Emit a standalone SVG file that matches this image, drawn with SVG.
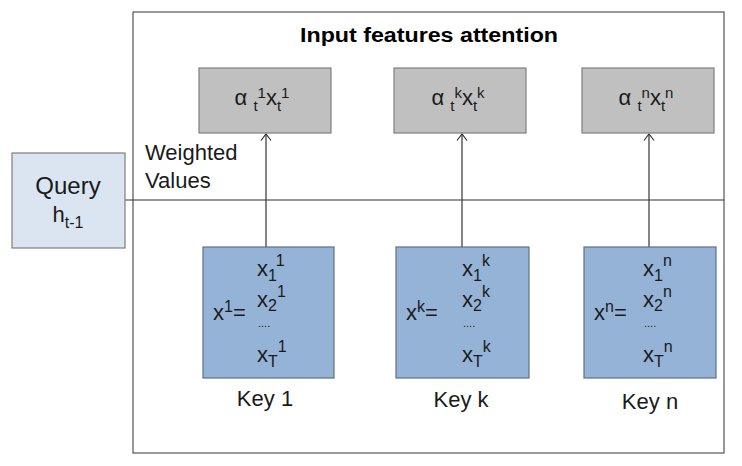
<svg xmlns="http://www.w3.org/2000/svg" width="742" height="466" viewBox="0 0 742 466">
<defs>
<style>
text{font-family:"Liberation Sans",Arial,sans-serif;fill:#1a1a1a}
.title{font-size:20px;font-weight:bold;fill:#000}
.lbl{font-size:22px}
.gray{fill:#c0c0c0;stroke:#7f7f7f;stroke-width:1.2}
.blue{fill:#95b3d7;stroke:#5f6f84;stroke-width:1.2}
.query{fill:#dbe5f1;stroke:#7f7f7f;stroke-width:1.2}
.conn{stroke:#333;stroke-width:1.2;fill:none}
.frame{fill:#fff;stroke:#555;stroke-width:1.2}
.m{font-size:22px}
.s{font-size:16px}
.g{font-size:15px}
.dots{font-size:11px}
</style>
<marker id="arr" viewBox="0 0 12 12" refX="10.5" refY="6" markerWidth="12" markerHeight="12" markerUnits="userSpaceOnUse" orient="auto">
<path d="M4,1 L10.5,6 L4,11" fill="none" stroke="#333" stroke-width="1.2"/>
</marker>
</defs>
<rect width="742" height="466" fill="#fff"/>
<g id="frame">
<rect class="frame" x="133" y="12" width="591" height="441"/>
<text class="title" x="429" y="42" text-anchor="middle" textLength="258" lengthAdjust="spacingAndGlyphs">Input features attention</text>
</g>
<g id="connectors">
<line class="conn" x1="125" y1="200" x2="724" y2="200"/>
<line class="conn" x1="266" y1="247" x2="266" y2="134" marker-end="url(#arr)"/>
<line class="conn" x1="462" y1="247" x2="462" y2="134" marker-end="url(#arr)"/>
<line class="conn" x1="649" y1="247" x2="649" y2="134" marker-end="url(#arr)"/>
</g>
<g id="weighted-label">
<text class="lbl" x="145" y="160">Weighted</text>
<text class="lbl" x="145" y="188">Values</text>
</g>
<g id="query">
<rect class="query" x="12" y="153" width="113" height="95"/>
<text x="68" y="194" text-anchor="middle" font-size="24">Query</text>
<text x="68" y="222" text-anchor="middle"><tspan class="m">h</tspan><tspan class="s" dy="6">t-1</tspan></text>
</g>
<g id="value1">
<rect class="gray" x="199" y="68" width="132" height="65"/>
<text x="262" y="105" text-anchor="middle"><tspan class="m">α </tspan><tspan class="g" dy="6">t</tspan><tspan class="g" dy="-13">1</tspan><tspan class="m" dy="7">x</tspan><tspan class="g" dy="6">t</tspan><tspan class="g" dy="-13">1</tspan></text>
</g>
<g id="valuek">
<rect class="gray" x="394" y="68" width="132" height="65"/>
<text x="458" y="105" text-anchor="middle"><tspan class="m">α </tspan><tspan class="g" dy="6">t</tspan><tspan class="g" dy="-13">k</tspan><tspan class="m" dy="7">x</tspan><tspan class="g" dy="6">t</tspan><tspan class="g" dy="-13">k</tspan></text>
</g>
<g id="valuen">
<rect class="gray" x="582" y="68" width="132" height="65"/>
<text x="646" y="105" text-anchor="middle"><tspan class="m">α </tspan><tspan class="g" dy="6">t</tspan><tspan class="g" dy="-13">n</tspan><tspan class="m" dy="7">x</tspan><tspan class="g" dy="6">t</tspan><tspan class="g" dy="-13">n</tspan></text>
</g>
<g id="key1">
<rect class="blue" x="203" y="247" width="131" height="131"/>
<text x="257" y="276"><tspan class="m">x</tspan><tspan class="s" dy="5">1</tspan><tspan class="s" dy="-15">1</tspan></text>
<text x="257" y="307"><tspan class="m">x</tspan><tspan class="s" dy="4">2</tspan><tspan class="s" dy="-14">1</tspan></text>
<text x="258" y="327" class="dots">....</text>
<text x="257" y="362"><tspan class="m">x</tspan><tspan class="s" dy="5">T</tspan><tspan class="s" dy="-15">1</tspan></text>
<text x="213" y="320"><tspan class="m">x</tspan><tspan class="s" dy="-8">1</tspan><tspan class="m" dy="8">=</tspan></text>
<text class="lbl" x="265" y="406" text-anchor="middle">Key 1</text>
</g>
<g id="keyk">
<rect class="blue" x="396" y="247" width="133" height="131"/>
<text x="462" y="276"><tspan class="m">x</tspan><tspan class="s" dy="5">1</tspan><tspan class="s" dy="-15">k</tspan></text>
<text x="462" y="307"><tspan class="m">x</tspan><tspan class="s" dy="4">2</tspan><tspan class="s" dy="-14">k</tspan></text>
<text x="463" y="327" class="dots">....</text>
<text x="462" y="362"><tspan class="m">x</tspan><tspan class="s" dy="5">T</tspan><tspan class="s" dy="-15">k</tspan></text>
<text x="406" y="320"><tspan class="m">x</tspan><tspan class="s" dy="-8">k</tspan><tspan class="m" dy="8">=</tspan></text>
<text class="lbl" x="461" y="407" text-anchor="middle">Key k</text>
</g>
<g id="keyn">
<rect class="blue" x="584" y="247" width="132" height="131"/>
<text x="643" y="276"><tspan class="m">x</tspan><tspan class="s" dy="5">1</tspan><tspan class="s" dy="-15">n</tspan></text>
<text x="643" y="307"><tspan class="m">x</tspan><tspan class="s" dy="4">2</tspan><tspan class="s" dy="-14">n</tspan></text>
<text x="644" y="327" class="dots">....</text>
<text x="643" y="362"><tspan class="m">x</tspan><tspan class="s" dy="5">T</tspan><tspan class="s" dy="-15">n</tspan></text>
<text x="594" y="320"><tspan class="m">x</tspan><tspan class="s" dy="-8">n</tspan><tspan class="m" dy="8">=</tspan></text>
<text class="lbl" x="650" y="409" text-anchor="middle">Key n</text>
</g>
</svg>
